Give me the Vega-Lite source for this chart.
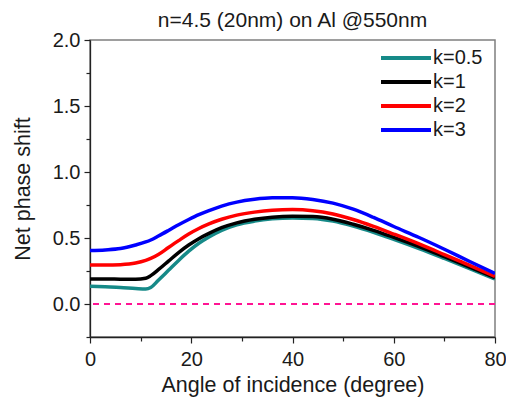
{
  "$schema": "https://vega.github.io/schema/vega-lite/v6.json",
  "width": 405,
  "height": 297,
  "autosize": "none",
  "padding": {"left": 90, "top": 40, "right": 11, "bottom": 65},
  "background": "white",
  "config": {
    "font": "Liberation Sans",
    "view": {"stroke": "#7f7f7f", "strokeWidth": 1.5},
    "axis": {
      "domainColor": "#222222",
      "domainWidth": 1.3,
      "tickColor": "#222222",
      "tickWidth": 1.2,
      "labelColor": "#1a1a1a",
      "labelFontSize": 20,
      "titleColor": "#1a1a1a",
      "titleFontSize": 21.5,
      "titleFontWeight": "normal",
      "grid": false
    }
  },
  "title": {
    "text": "n=4.5 (20nm) on Al @550nm",
    "fontSize": 21,
    "fontWeight": "normal",
    "color": "#1a1a1a",
    "frame": "group",
    "anchor": "middle",
    "offset": -1
  },
  "data": {
    "values": [
      {"angle": 0, "k": "k=0.5", "shift": 0.135},
      {"angle": 3, "k": "k=0.5", "shift": 0.13},
      {"angle": 6, "k": "k=0.5", "shift": 0.125},
      {"angle": 9, "k": "k=0.5", "shift": 0.117},
      {"angle": 11, "k": "k=0.5", "shift": 0.113},
      {"angle": 12, "k": "k=0.5", "shift": 0.125},
      {"angle": 13.5, "k": "k=0.5", "shift": 0.18},
      {"angle": 15.5, "k": "k=0.5", "shift": 0.255},
      {"angle": 17.5, "k": "k=0.5", "shift": 0.33},
      {"angle": 19.5, "k": "k=0.5", "shift": 0.4},
      {"angle": 21.5, "k": "k=0.5", "shift": 0.46},
      {"angle": 23.5, "k": "k=0.5", "shift": 0.508},
      {"angle": 26, "k": "k=0.5", "shift": 0.558},
      {"angle": 29, "k": "k=0.5", "shift": 0.6},
      {"angle": 32.5, "k": "k=0.5", "shift": 0.628},
      {"angle": 36, "k": "k=0.5", "shift": 0.645},
      {"angle": 40, "k": "k=0.5", "shift": 0.652},
      {"angle": 44, "k": "k=0.5", "shift": 0.648},
      {"angle": 48, "k": "k=0.5", "shift": 0.628},
      {"angle": 52, "k": "k=0.5", "shift": 0.59},
      {"angle": 56, "k": "k=0.5", "shift": 0.543},
      {"angle": 60, "k": "k=0.5", "shift": 0.49},
      {"angle": 65, "k": "k=0.5", "shift": 0.42},
      {"angle": 70, "k": "k=0.5", "shift": 0.345},
      {"angle": 75, "k": "k=0.5", "shift": 0.268},
      {"angle": 80, "k": "k=0.5", "shift": 0.19},

      {"angle": 0, "k": "k=1", "shift": 0.19},
      {"angle": 3, "k": "k=1", "shift": 0.19},
      {"angle": 6, "k": "k=1", "shift": 0.188},
      {"angle": 9, "k": "k=1", "shift": 0.187},
      {"angle": 11, "k": "k=1", "shift": 0.195},
      {"angle": 12, "k": "k=1", "shift": 0.215},
      {"angle": 13.5, "k": "k=1", "shift": 0.26},
      {"angle": 15.5, "k": "k=1", "shift": 0.325},
      {"angle": 17.5, "k": "k=1", "shift": 0.39},
      {"angle": 19.5, "k": "k=1", "shift": 0.447},
      {"angle": 21.5, "k": "k=1", "shift": 0.495},
      {"angle": 23.5, "k": "k=1", "shift": 0.535},
      {"angle": 26, "k": "k=1", "shift": 0.578},
      {"angle": 29, "k": "k=1", "shift": 0.615},
      {"angle": 32.5, "k": "k=1", "shift": 0.642},
      {"angle": 36, "k": "k=1", "shift": 0.658},
      {"angle": 40, "k": "k=1", "shift": 0.665},
      {"angle": 44, "k": "k=1", "shift": 0.662},
      {"angle": 48, "k": "k=1", "shift": 0.642},
      {"angle": 52, "k": "k=1", "shift": 0.604},
      {"angle": 56, "k": "k=1", "shift": 0.558},
      {"angle": 60, "k": "k=1", "shift": 0.505},
      {"angle": 65, "k": "k=1", "shift": 0.435},
      {"angle": 70, "k": "k=1", "shift": 0.358},
      {"angle": 75, "k": "k=1", "shift": 0.279},
      {"angle": 80, "k": "k=1", "shift": 0.2},

      {"angle": 0, "k": "k=2", "shift": 0.295},
      {"angle": 3, "k": "k=2", "shift": 0.295},
      {"angle": 6, "k": "k=2", "shift": 0.298},
      {"angle": 9, "k": "k=2", "shift": 0.31},
      {"angle": 11, "k": "k=2", "shift": 0.33},
      {"angle": 12, "k": "k=2", "shift": 0.345},
      {"angle": 13.5, "k": "k=2", "shift": 0.375},
      {"angle": 15.5, "k": "k=2", "shift": 0.428},
      {"angle": 17.5, "k": "k=2", "shift": 0.48},
      {"angle": 19.5, "k": "k=2", "shift": 0.53},
      {"angle": 21.5, "k": "k=2", "shift": 0.572},
      {"angle": 23.5, "k": "k=2", "shift": 0.607},
      {"angle": 26, "k": "k=2", "shift": 0.642},
      {"angle": 29, "k": "k=2", "shift": 0.673},
      {"angle": 32.5, "k": "k=2", "shift": 0.696},
      {"angle": 36, "k": "k=2", "shift": 0.71},
      {"angle": 40, "k": "k=2", "shift": 0.715},
      {"angle": 44, "k": "k=2", "shift": 0.707},
      {"angle": 48, "k": "k=2", "shift": 0.682},
      {"angle": 52, "k": "k=2", "shift": 0.64},
      {"angle": 56, "k": "k=2", "shift": 0.588},
      {"angle": 60, "k": "k=2", "shift": 0.53},
      {"angle": 65, "k": "k=2", "shift": 0.455},
      {"angle": 70, "k": "k=2", "shift": 0.374},
      {"angle": 75, "k": "k=2", "shift": 0.292},
      {"angle": 80, "k": "k=2", "shift": 0.21},

      {"angle": 0, "k": "k=3", "shift": 0.405},
      {"angle": 3, "k": "k=3", "shift": 0.41},
      {"angle": 6, "k": "k=3", "shift": 0.42},
      {"angle": 9, "k": "k=3", "shift": 0.447},
      {"angle": 11, "k": "k=3", "shift": 0.47},
      {"angle": 12, "k": "k=3", "shift": 0.485},
      {"angle": 13.5, "k": "k=3", "shift": 0.515},
      {"angle": 15.5, "k": "k=3", "shift": 0.557},
      {"angle": 17.5, "k": "k=3", "shift": 0.6},
      {"angle": 19.5, "k": "k=3", "shift": 0.64},
      {"angle": 21.5, "k": "k=3", "shift": 0.677},
      {"angle": 23.5, "k": "k=3", "shift": 0.708},
      {"angle": 26, "k": "k=3", "shift": 0.742},
      {"angle": 29, "k": "k=3", "shift": 0.772},
      {"angle": 32.5, "k": "k=3", "shift": 0.793},
      {"angle": 36, "k": "k=3", "shift": 0.804},
      {"angle": 40, "k": "k=3", "shift": 0.805},
      {"angle": 44, "k": "k=3", "shift": 0.792},
      {"angle": 48, "k": "k=3", "shift": 0.764},
      {"angle": 52, "k": "k=3", "shift": 0.718},
      {"angle": 56, "k": "k=3", "shift": 0.656},
      {"angle": 60, "k": "k=3", "shift": 0.587},
      {"angle": 65, "k": "k=3", "shift": 0.504},
      {"angle": 70, "k": "k=3", "shift": 0.415},
      {"angle": 75, "k": "k=3", "shift": 0.322},
      {"angle": 80, "k": "k=3", "shift": 0.232}
    ]
  },
  "resolve": {"axis": {"y": "independent"}},
  "layer": [
    {
      "mark": {"type": "rule", "color": "#ff1493", "strokeWidth": 2, "strokeDash": [6, 5]},
      "encoding": {
        "y": {
          "datum": 0,
          "type": "quantitative",
          "scale": {"domain": [-0.25, 2.0], "nice": false, "zero": false},
          "axis": {
            "orient": "left",
            "title": null,
            "values": [-0.25, 0.25, 0.75, 1.25, 1.75],
            "labels": false,
            "domain": false,
            "tickSize": 4
          }
        }
      }
    },
    {
      "mark": {"type": "line", "interpolate": "monotone", "strokeWidth": 3.5, "clip": true},
      "encoding": {
        "x": {
          "field": "angle",
          "type": "quantitative",
          "scale": {"domain": [0, 80], "nice": false, "zero": false},
          "axis": {
            "title": "Angle of incidence (degree)",
            "values": [0, 10, 20, 30, 40, 50, 60, 70, 80],
            "labelExpr": "datum.value % 20 === 0 ? datum.label : ''",
            "tickSize": {"condition": {"test": "datum.value % 20 === 0", "value": 6}, "value": 4},
            "labelPadding": 6,
            "titlePadding": 5,
            "labelFlush": false
          }
        },
        "y": {
          "field": "shift",
          "type": "quantitative",
          "scale": {"domain": [-0.25, 2.0], "nice": false, "zero": false},
          "axis": {
            "orient": "left",
            "title": "Net phase shift",
            "format": ".1f",
            "values": [0, 0.5, 1.0, 1.5, 2.0],
            "tickSize": 6,
            "labelPadding": 4,
            "titlePadding": 18,
            "labelFlush": false
          }
        },
        "color": {
          "field": "k",
          "type": "nominal",
          "scale": {
            "domain": ["k=0.5", "k=1", "k=2", "k=3"],
            "range": ["#168a88", "#000000", "#ff0000", "#0000ff"]
          },
          "legend": {
            "title": null,
            "orient": "none",
            "legendX": 304,
            "legendY": 6,
            "padding": 0,
            "symbolType": "M-2.5,0H2.5",
            "symbolSize": 400,
            "symbolStrokeWidth": 4,
            "labelFontSize": 20,
            "labelColor": "#1a1a1a",
            "labelOffset": 15,
            "rowPadding": 2
          }
        },
        "order": {"field": "k"}
      }
    }
  ]
}
